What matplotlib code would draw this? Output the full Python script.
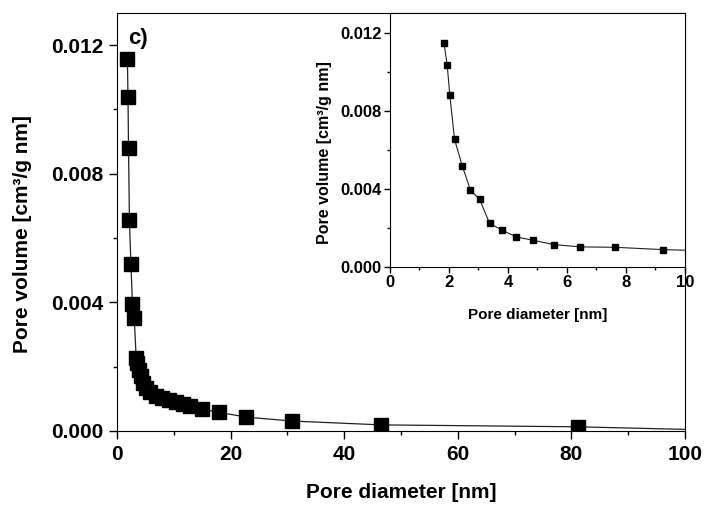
import numpy as np
import matplotlib
matplotlib.use("Agg")
import matplotlib.pyplot as plt
from matplotlib.ticker import MultipleLocator

plt.rcParams['font.family'] = ['Liberation Sans', 'DejaVu Sans']
plt.rcParams['font.weight'] = 'bold'
plt.rcParams['axes.labelweight'] = 'bold'

# main curve, pore size distribution (nm, cm3/g nm)
diam = [1.83, 1.94, 2.03, 2.19, 2.45, 2.73, 3.04, 3.38, 3.6, 3.85, 4.15, 4.55,
        5.1, 5.9, 6.9, 8.0, 9.2, 10.4, 11.6, 12.8, 15.0, 18.0, 22.8, 30.8,
        46.5, 81.2, 100.0]
vol = [0.01156, 0.01038, 0.00881, 0.00657, 0.00519, 0.00394, 0.00350, 0.00228,
       0.00210, 0.00190, 0.00170, 0.00150, 0.00134, 0.00120, 0.00110, 0.00104,
       0.00097, 0.00090, 0.00083, 0.00077, 0.00068, 0.00058, 0.00043, 0.00031,
       0.00019, 0.00013, 0.00005]

# inset, zoom on 0-10 nm
diam_in = [1.83, 1.94, 2.03, 2.19, 2.45, 2.73, 3.04, 3.38, 3.80, 4.28, 4.85,
           5.55, 6.45, 7.62, 9.27, 11.0]
vol_in = [0.01149, 0.01034, 0.00878, 0.00653, 0.00518, 0.00393, 0.00346,
          0.00223, 0.00189, 0.00154, 0.00137, 0.00115, 0.00103, 0.00101,
          0.00089, 0.00082]

ylab = 'Pore volume [cm\u00b3/g nm]'

fig = plt.figure(figsize=(7.09, 5.14), dpi=100)
ax = fig.add_axes([0.165, 0.1615, 0.8011, 0.8132])

ax.plot(diam, vol, '-', color='#222222', lw=0.9)
ax.plot(diam[:-1], vol[:-1], 's', color='black', ms=9.5)
ax.set_xlim(0, 100)
ax.set_ylim(0, 0.013)
ax.xaxis.set_major_locator(MultipleLocator(20))
ax.xaxis.set_minor_locator(MultipleLocator(10))
ax.yaxis.set_major_locator(MultipleLocator(0.004))
ax.yaxis.set_minor_locator(MultipleLocator(0.002))
ax.yaxis.set_major_formatter(plt.FormatStrFormatter('%.3f'))
ax.tick_params(which='major', length=6, width=1, labelsize=15, pad=4)
ax.tick_params(which='minor', length=3, width=1)
ax.set_xlabel('Pore diameter [nm]', fontsize=15, labelpad=14)
ax.set_ylabel(ylab, fontsize=15)
ax.yaxis.set_label_coords(-0.150, 0.47)
ax.text(0.02, 0.965, 'c)', transform=ax.transAxes, fontsize=16,
        fontweight='bold', va='top', ha='left')

ins = fig.add_axes([0.550, 0.4805, 0.4161, 0.4942])
ins.plot(diam_in, vol_in, '-', color='#222222', lw=0.8)
ins.plot(diam_in, vol_in, 's', color='black', ms=5)
ins.set_xlim(0, 10)
ins.set_ylim(0, 0.013)
ins.xaxis.set_major_locator(MultipleLocator(2))
ins.xaxis.set_minor_locator(MultipleLocator(1))
ins.yaxis.set_major_locator(MultipleLocator(0.004))
ins.yaxis.set_minor_locator(MultipleLocator(0.002))
ins.yaxis.set_major_formatter(plt.FormatStrFormatter('%.3f'))
ins.tick_params(which='major', length=4, width=1, labelsize=12, pad=2)
ins.tick_params(which='minor', length=2, width=1)
ins.set_xlabel('Pore diameter [nm]', fontsize=11, labelpad=13)
ins.set_ylabel(ylab, fontsize=11.5)
ins.yaxis.set_label_coords(-0.195, 0.45)

fig.savefig('out.png', dpi=100)
